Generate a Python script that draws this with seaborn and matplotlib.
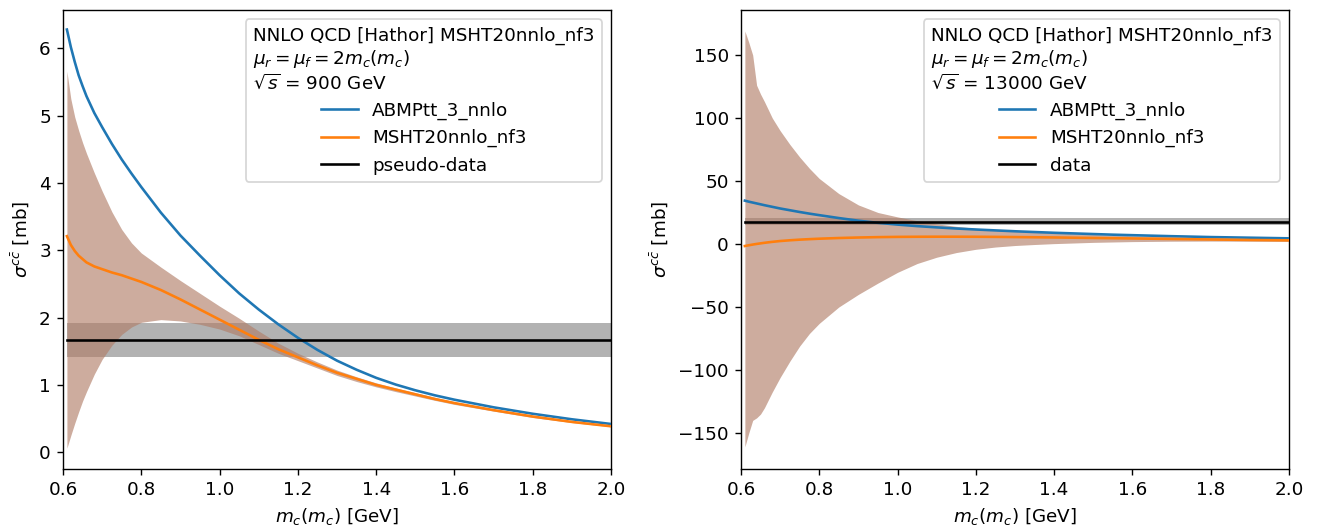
import numpy as np
import pandas as pd
import matplotlib
matplotlib.use("Agg")
import matplotlib.pyplot as plt
import seaborn as sns

# charm-quark mass grid [GeV]
mc = [0.61, 0.62, 0.63, 0.64, 0.65, 0.66, 0.68, 0.70, 0.725, 0.75, 0.775, 0.80,
      0.85, 0.90, 0.95, 1.00, 1.05, 1.10, 1.15, 1.20, 1.25, 1.30, 1.35, 1.40,
      1.45, 1.50, 1.55, 1.60, 1.70, 1.80, 1.90, 2.00]

# sqrt(s) = 900 GeV
abmp_900 = [6.28, 6.02, 5.80, 5.60, 5.44, 5.29, 5.04, 4.83, 4.58, 4.35, 4.14, 3.94,
            3.56, 3.22, 2.92, 2.63, 2.36, 2.12, 1.90, 1.70, 1.52, 1.36, 1.225, 1.105,
            1.005, 0.92, 0.845, 0.78, 0.667, 0.571, 0.489, 0.419]
msht_900 = [3.21, 3.08, 2.99, 2.92, 2.87, 2.82, 2.76, 2.72, 2.67, 2.63, 2.58, 2.53,
            2.41, 2.27, 2.12, 1.97, 1.82, 1.67, 1.53, 1.41, 1.29, 1.18, 1.09, 1.00,
            0.93, 0.86, 0.79, 0.73, 0.625, 0.53, 0.45, 0.385]
msht_900_up = [5.66, 5.25, 4.98, 4.78, 4.60, 4.44, 4.15, 3.88, 3.57, 3.31, 3.11, 2.96,
               2.75, 2.55, 2.36, 2.17, 1.99, 1.80, 1.62, 1.47, 1.34, 1.22, 1.12, 1.03,
               0.955, 0.885, 0.815, 0.75, 0.64, 0.545, 0.46, 0.392]
msht_900_dn = [0.06, 0.25, 0.43, 0.60, 0.76, 0.90, 1.16, 1.38, 1.59, 1.75, 1.86, 1.93,
               1.97, 1.95, 1.90, 1.83, 1.73, 1.60, 1.47, 1.36, 1.25, 1.14, 1.05, 0.97,
               0.90, 0.835, 0.77, 0.71, 0.61, 0.515, 0.44, 0.378]
data_900, data_900_err = 1.67, 0.25

# sqrt(s) = 13000 GeV
abmp_13000 = [34.4, 33.6, 32.9, 32.2, 31.5, 30.8, 29.5, 28.2, 26.8, 25.4, 24.1, 22.9,
              20.6, 18.5, 16.8, 15.4, 14.2, 13.2, 12.3, 11.5, 10.8, 10.1, 9.5, 8.9,
              8.4, 7.9, 7.4, 7.0, 6.2, 5.5, 5.0, 4.5]
msht_13000 = [-1.6, -1.0, -0.45, 0.05, 0.5, 0.95, 1.7, 2.35, 2.95, 3.45, 3.85, 4.2,
              4.75, 5.15, 5.45, 5.65, 5.75, 5.8, 5.8, 5.75, 5.65, 5.5, 5.35, 5.2,
              5.0, 4.8, 4.6, 4.4, 4.0, 3.6, 3.2, 2.9]
msht_13000_up = [169, 160, 150, 126, 119, 113, 100, 90, 79, 69, 60, 52,
                 40, 31, 25, 21.5, 18.5, 16.0, 14.0, 12.5, 11.3, 10.3, 9.5, 8.8,
                 8.2, 7.6, 7.1, 6.6, 5.8, 5.1, 4.5, 4.0]
msht_13000_dn = [-161, -150, -140, -138, -135, -130, -117.5, -106, -93, -81, -71, -63,
                 -50, -40, -31, -22.5, -15.5, -10.5, -6.8, -4.2, -2.4, -1.2, -0.4, 0.3,
                 0.8, 1.3, 1.6, 1.9, 2.2, 2.3, 2.2, 2.0]
data_13000, data_13000_err = 17.7, 2.6

band_color = (177 / 255, 125 / 255, 103 / 255)

plt.rcParams.update(plt.rcParamsDefault)
plt.rcParams["font.size"] = 10.6
fig, axes = plt.subplots(1, 2, figsize=(1318 / 125, 528 / 125), dpi=125)
fig.subplots_adjust(left=0.0478, right=0.978, bottom=0.1117, top=0.981, wspace=0.237)

panels = [
    (axes[0], "900", abmp_900, msht_900, msht_900_up, msht_900_dn,
     data_900, data_900_err, "pseudo-data", (-0.25, 6.57), np.arange(0, 7, 1)),
    (axes[1], "13000", abmp_13000, msht_13000, msht_13000_up, msht_13000_dn,
     data_13000, data_13000_err, "data", (-178.6, 185.7), np.arange(-150, 151, 50)),
]

for ax, sqrts, abmp, msht, up, dn, dval, derr, dlabel, ylim, yticks in panels:
    df = pd.DataFrame({"mc": mc, "abmp": abmp, "msht": msht, "up": up, "dn": dn})
    df["data"] = dval

    # measured cross section with its uncertainty
    ax.fill_between(df["mc"], df["data"] - derr, df["data"] + derr,
                    color="black", alpha=0.3, linewidth=0, zorder=1)
    # MSHT20 PDF uncertainty band
    ax.fill_between(df["mc"], df["dn"], df["up"], color=band_color, alpha=0.64,
                    linewidth=0, zorder=1.5)

    sns.lineplot(data=df, x="mc", y="abmp", ax=ax, color="C0", label="ABMPtt_3_nnlo", zorder=3)
    sns.lineplot(data=df, x="mc", y="msht", ax=ax, color="C1", label="MSHT20nnlo_nf3", zorder=3)
    sns.lineplot(data=df, x="mc", y="data", ax=ax, color="black", label=dlabel, zorder=3)

    ax.set_xlim(0.6, 2.0)
    ax.set_ylim(*ylim)
    ax.set_yticks(yticks)
    xt = np.arange(0.6, 2.01, 0.2)
    ax.set_xticks(xt)
    ax.set_xticklabels([f"{t:.1f}" for t in xt])
    ax.set_xlabel(r"$m_c(m_c)$ [GeV]")
    ax.set_ylabel(r"$\sigma^{c\bar{c}}$ [mb]")

    title = ("NNLO QCD [Hathor] MSHT20nnlo_nf3\n"
             r"$\mu_r = \mu_f = 2m_c(m_c)$" "\n"
             r"$\sqrt{s}$ = " + sqrts + " GeV")
    leg = ax.legend(title=title, loc="upper right",
                    title_fontsize=plt.rcParams["font.size"])
    leg.get_title().set_multialignment("left")

fig.savefig("out.png", dpi=125)
